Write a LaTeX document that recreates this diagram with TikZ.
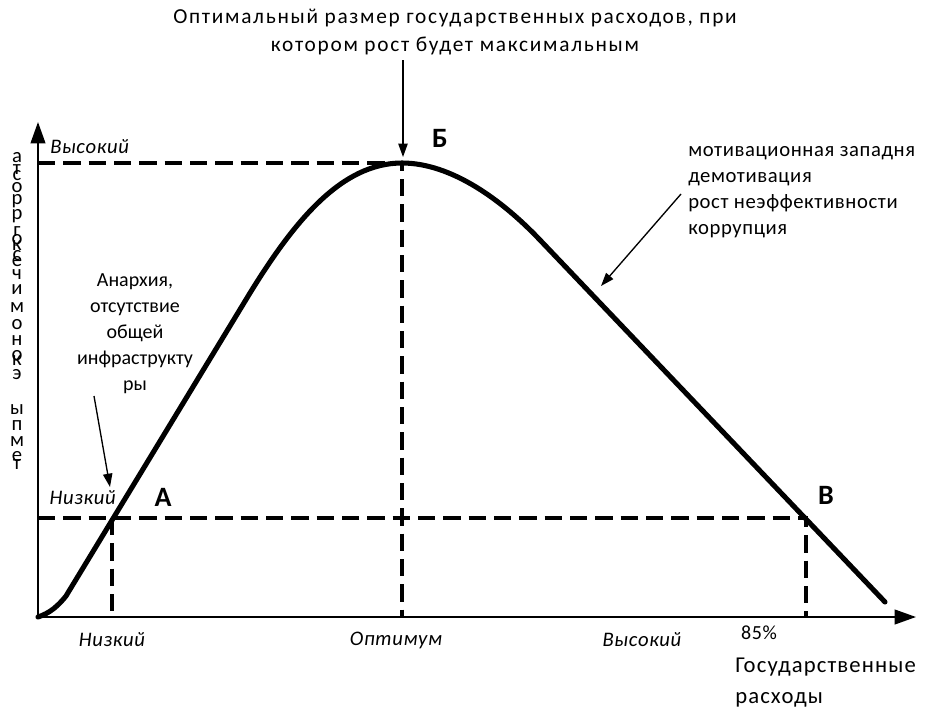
\documentclass[tikz,border=0pt]{standalone}
\usepackage{fontspec}
\setmainfont{Carlito}
\usetikzlibrary{arrows.meta}
\begin{document}
\begin{tikzpicture}[x=0.75pt,y=-0.75pt,
  axis/.style={line width=1.5pt,-{Triangle[length=16pt,width=11pt]}},
  guide/.style={line width=2.4pt,dash pattern=on 13pt off 6pt},
  curve/.style={line width=3.8pt,line cap=round,line join=round},
  pointer/.style={line width=1pt,-{Triangle[length=10pt,width=7pt]}},
  lbl/.style={font=\fontsize{15.5}{16}\selectfont\itshape\addfontfeature{LetterSpace=3},inner sep=0pt},
  ptlbl/.style={font=\fontsize{21}{24}\selectfont\bfseries,inner sep=0pt},
  note/.style={font=\fontsize{15.5}{19.5}\selectfont\addfontfeature{LetterSpace=3},inner sep=0pt,align=left},
  stk/.style={font=\fontsize{15.5}{15}\selectfont,inner sep=0pt}]
\useasboundingbox (0,0) rectangle (925,715);
% key points
\coordinate (O) at (38,617);
\coordinate (Ytop) at (38,122);
\coordinate (Xend) at (916,617);
\coordinate (A) at (112,518);
\coordinate (Bp) at (402,163);
\coordinate (V) at (806,518);
\coordinate (yh) at (38,163);
\coordinate (yl) at (38,518);
\coordinate (xo) at (402,617);
\coordinate (xl) at (112,617);
\coordinate (xv) at (806,617);
\coordinate (cend) at (885,602);
% guides
\draw[guide] (yh) -- (Bp) -- (xo);
\draw[guide] (yl) -- (V) -- (xv);
\draw[guide] (A) -- (xl);
% axes
\draw[axis] (O) -- (Ytop);
\draw[axis] (O) -- (Xend);
% curve
\draw[curve] (O) .. controls (50,613) and (58,606) .. (66,596) -- (250,293)
  .. controls (295,220) and (342,163) .. (Bp)
  .. controls (452,163) and (503,201) .. (540,240) -- (cend);
% top note
\node[font=\fontsize{16}{21}\selectfont\addfontfeature{LetterSpace=8},align=center,inner sep=0pt] (top) at (455,32)
  {Оптимальный размер государственных расходов, при\\котором рост будет максимальным};
\coordinate (topa) at (403,60);
\coordinate (topb) at (403,157);
\draw[pointer] (topa) -- (topb);
% right note
\node[note,anchor=west] (right) at (688,192)
  {мотивационная западня\\демотивация\\рост неэффективности\\коррупция};
\coordinate (ra) at (681,194);
\coordinate (rb) at (601,286);
\draw[pointer] (ra) -- (rb);
% anarchy note
\node[note,align=center,font=\fontsize{15}{19.5}\selectfont] (anar) at (135,334)
  {Анархия,\\отсутствие\\общей\\инфраструкту\\ры};
\coordinate (aa) at (94,396);
\coordinate (ab) at (110,487);
\draw[pointer] (aa) -- (ab);
% point labels
\node[ptlbl] (lA) at (163,497) {А};
\node[ptlbl] (lB) at (440,138) {Б};
\node[ptlbl] (lV) at (826,495) {В};
% axis level labels
\node[lbl,anchor=west] (yhigh) at (50,147) {Высокий};
\node[lbl,anchor=east] (ylow) at (116,498) {Низкий};
\node[lbl] (xlow) at (112,640) {Низкий};
\node[lbl] (xopt) at (396,640) {Оптимум};
\node[lbl] (xhigh) at (642,640) {Высокий};
\node[font=\fontsize{15}{16}\selectfont\addfontfeature{LetterSpace=3},inner sep=0pt] (p85) at (759,633) {85\%};
\node[font=\fontsize{17}{24}\selectfont\addfontfeature{LetterSpace=5},inner sep=0pt,anchor=west] (xt1) at (735,667) {Государственные};
\node[font=\fontsize{17}{24}\selectfont\addfontfeature{LetterSpace=5},inner sep=0pt,anchor=west] (xt2) at (735,700) {расходы};
% stacked vertical axis title
\foreach \ch/\yy in {а/158,т/170,с/176,о/188,р/201,р/216,г/232,о/240,к/246,с/256,е/262,ч/275,и/290,м/308,о/325,н/341,о/356,к/361,э/375,ы/410,п/426,м/442,е/457,т/465}
  \node[stk] at (17,\yy) {\ch};
\end{tikzpicture}
\end{document}
